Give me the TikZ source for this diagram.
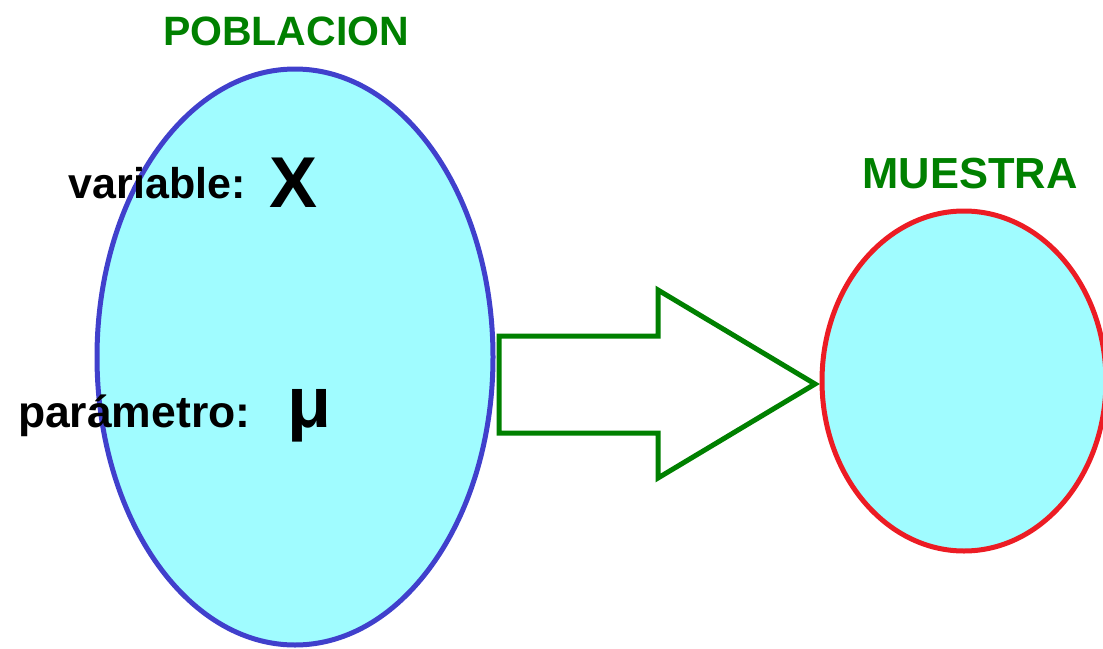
\documentclass[tikz,border=0pt]{standalone}
\usepackage{fontspec}
\setmainfont{Liberation Sans}
\usetikzlibrary{shapes.geometric}
\definecolor{celeste}{RGB}{160,252,255}
\definecolor{azul}{RGB}{64,64,204}
\definecolor{rojo}{RGB}{236,28,36}
\definecolor{verde}{RGB}{0,128,0}
\tikzset{
  conjunto/.style={ellipse,fill=celeste,line width=5pt,inner sep=0pt},
  titulo/.style={text=verde,font=\fontsize{42}{48}\selectfont\bfseries,anchor=base},
  etiqueta/.style={font=\fontsize{43}{50}\selectfont\bfseries,anchor=base east},
  simbolo/.style={font=\fontsize{72}{80}\selectfont\bfseries,anchor=base}
}
\begin{document}
\begin{tikzpicture}[x=1pt,y=-1pt]
\useasboundingbox (0,0) rectangle (1103,648);
% poblacion
\node[conjunto,draw=azul,minimum width=396pt,minimum height=576pt] (pob) at (295,357) {};
\node[titulo,font=\fontsize{41}{48}\selectfont\bfseries] (tpob) at (286,45) {POBLACION};
\node[etiqueta] (var) at (249,198) {variable:};
\node[simbolo] (x) at (294,207) {X};
\node[etiqueta,font=\fontsize{44.5}{50}\selectfont\bfseries] (par) at (254,427) {parámetro:};
\node[simbolo] (mu) at (310,427) {μ};
% muestra
\node[conjunto,draw=rojo,minimum width=284pt,minimum height=340pt] (mue) at (964,381) {};
\node[titulo,font=\fontsize{43.5}{48}\selectfont\bfseries] (tmue) at (970,188) {MUESTRA};
% flecha
\draw[verde,line width=5pt,miter limit=20,fill=white]
  (499,336)--(658,336)--(658,290)--(815,384)--(658,478)--(658,433)--(499,433)--cycle;
\end{tikzpicture}
\end{document}
